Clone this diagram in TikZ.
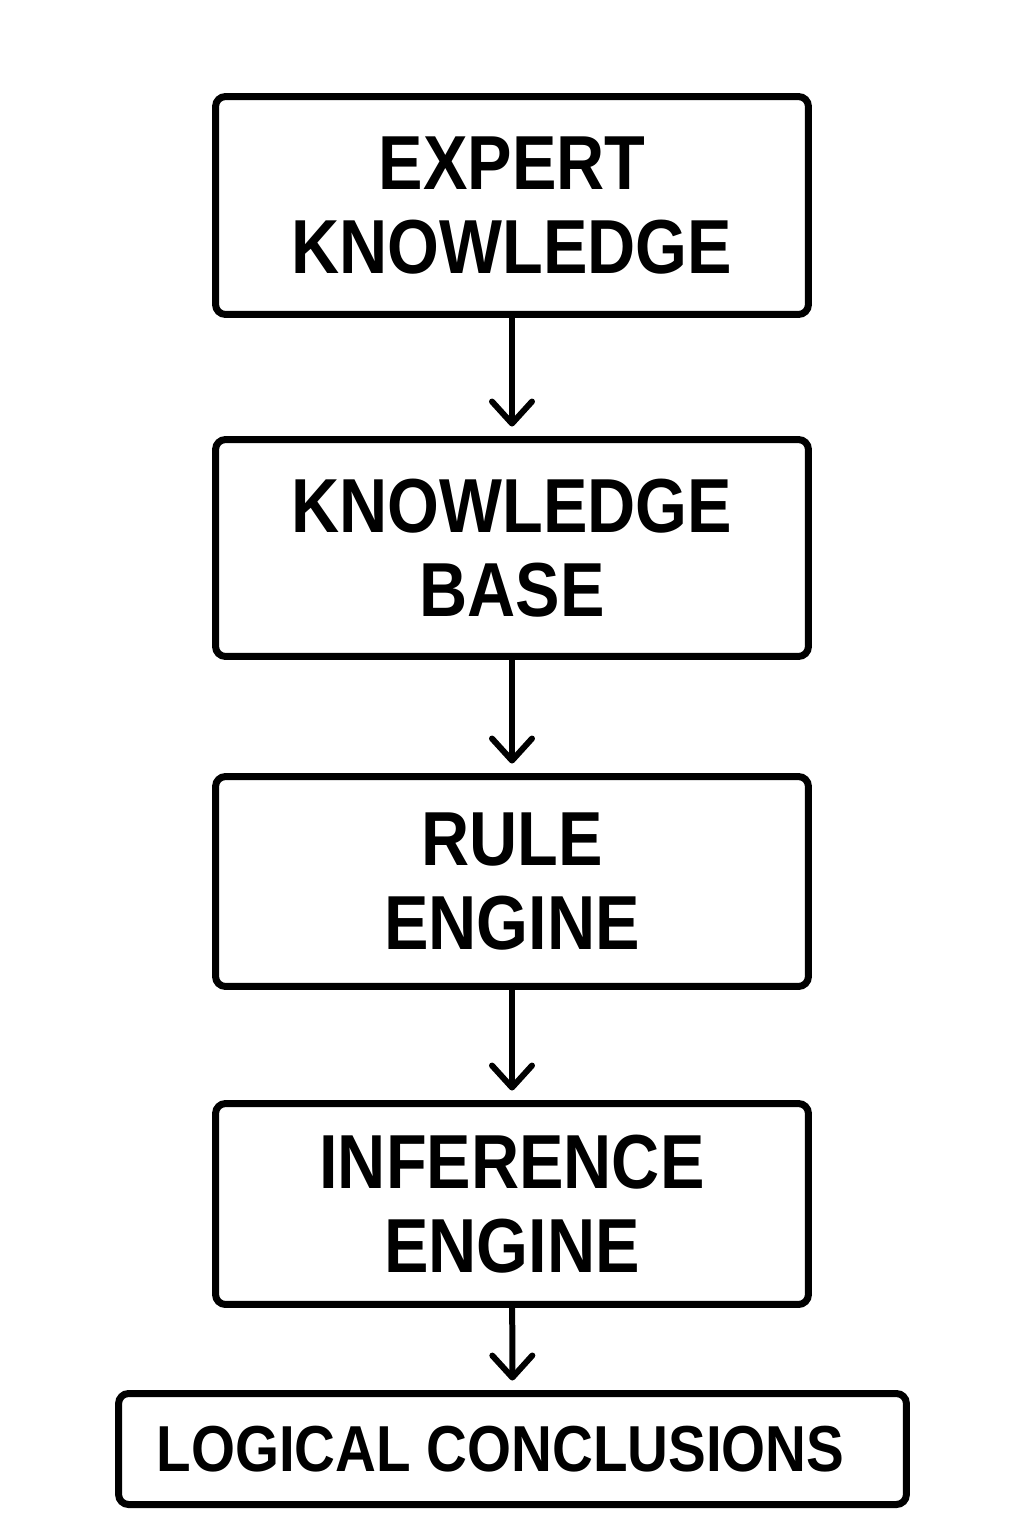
\documentclass[tikz,border=0pt]{standalone}
\usepackage{fontspec}
\setmainfont{Liberation Sans}[FakeStretch=0.87]
\usepackage{tikz}
\usetikzlibrary{arrows.meta}

\begin{document}
\begin{tikzpicture}[x=0.02cm,y=-0.02cm,
    box/.style={draw,line width=0.14cm,rounded corners=0.2cm,align=center,
      inner sep=0pt,minimum width=11.86cm,
      font=\bfseries\fontsize{43.6}{48.2}\selectfont},
    arr/.style={line width=0.12cm,shorten >=0.19cm,
      -{Straight Barb[length=0.44cm,width=0.8cm,line cap=round,line join=round]}}]
    \useasboundingbox (0,0) rectangle (1024,1536);

    \node (expert) at (512,205.5) [box,minimum height=4.36cm] {EXPERT\\KNOWLEDGE};
    \node (kbase) at (512,548) [box,minimum height=4.34cm] {KNOWLEDGE\\BASE};
    \node (rule) at (512,881.5) [box,minimum height=4.2cm] {RULE\\ENGINE};
    \node (infer) at (512,1204) [box,minimum height=4.02cm] {INFERENCE\\ENGINE};
    \node (concl) at (512.5,1449) [box,minimum width=15.76cm,minimum height=2.22cm,
      font=\bfseries\fontsize{37}{40}\selectfont] {LOGICAL CONCLUSIONS\hspace{0.48cm}};

    \draw[arr] (expert) to (kbase);
    \draw[arr] (kbase) to (rule);
    \draw[arr] (rule) to (infer);
    \draw[arr] (infer) to (concl);
\end{tikzpicture}
\end{document}
